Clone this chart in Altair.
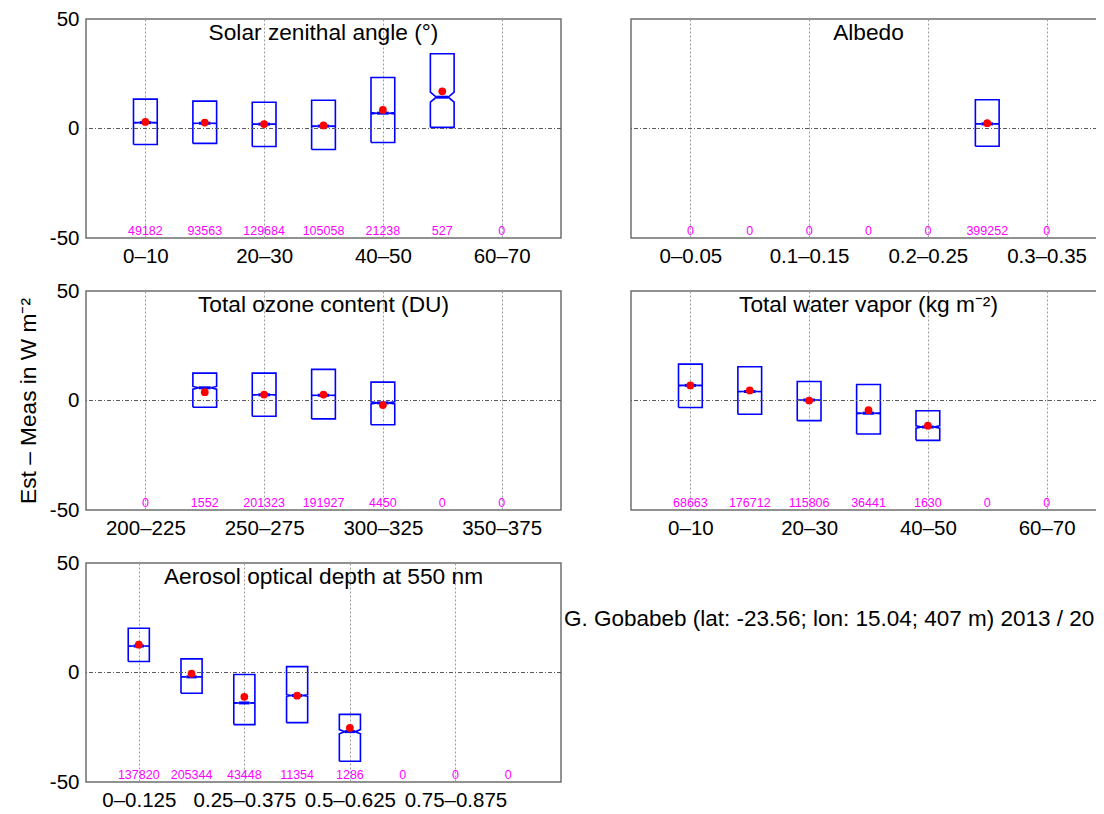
import math
import altair as alt
import pandas as pd

FONT = "Liberation Sans"
W, H = 475, 219
HW = 0.2          # half box width, in category units
BLUE = "#0000FF"

# ---------------- data ----------------
sza_bins = ["0–10", "10–20", "20–30", "30–40", "40–50", "50–60", "60–70"]
sza_n = [49182, 93563, 129684, 105058, 21238, 527, 0]
sza_q1 = [-7.3, -6.8, -8.2, -9.6, -6.4, 0.5, None]
sza_med = [2.7, 2.4, 2.0, 1.1, 7.0, 14.3, None]
sza_q3 = [13.4, 12.5, 12.0, 12.9, 23.3, 34.1, None]
sza_mean = [3.0, 2.7, 2.0, 1.4, 8.5, 17.0, None]

alb_bins = ["0–0.05", "0.05–0.1", "0.1–0.15", "0.15–0.2", "0.2–0.25", "0.25–0.3", "0.3–0.35"]
alb_n = [0, 0, 0, 0, 0, 399252, 0]
alb_q1 = [None, None, None, None, None, -8.1, None]
alb_med = [None, None, None, None, None, 2.1, None]
alb_q3 = [None, None, None, None, None, 13.1, None]
alb_mean = [None, None, None, None, None, 2.4, None]

oz_bins = ["200–225", "225–250", "250–275", "275–300", "300–325", "325–350", "350–375"]
oz_n = [0, 1552, 201323, 191927, 4450, 0, 0]
oz_q1 = [None, -3.1, -7.2, -8.4, -11.1, None, None]
oz_med = [None, 5.8, 2.6, 2.4, -1.1, None, None]
oz_q3 = [None, 12.5, 12.5, 14.2, 8.4, None, None]
oz_mean = [None, 3.8, 2.7, 2.7, -2.1, None, None]

wv_bins = ["0–10", "10–20", "20–30", "30–40", "40–50", "50–60", "60–70"]
wv_n = [68663, 176712, 115806, 36441, 1630, 0, 0]
wv_q1 = [-3.2, -6.3, -9.2, -15.3, -18.2, None, None]
wv_med = [6.9, 4.1, 0.2, -5.8, -12.1, None, None]
wv_q3 = [16.6, 15.4, 8.7, 7.3, -4.7, None, None]
wv_mean = [6.9, 4.6, 0.0, -4.4, -11.5, None, None]

aod_bins = ["0–0.125", "0.125–0.25", "0.25–0.375", "0.375–0.5",
            "0.5–0.625", "0.625–0.75", "0.75–0.875", "0.875–1"]
aod_n = [137820, 205344, 43448, 11354, 1286, 0, 0, 0]
aod_q1 = [5.0, -9.5, -23.8, -22.9, -40.5, None, None, None]
aod_med = [12.1, -2.0, -13.9, -10.5, -27.0, None, None, None]
aod_q3 = [20.2, 6.2, -0.9, 2.7, -19.1, None, None, None]
aod_mean = [12.7, -0.5, -11.1, -10.6, -25.3, None, None, None]

titles = ["Solar zenithal angle (°)", "Albedo", "Total ozone content (DU)",
          "Total water vapor (kg m⁻²)", "Aerosol optical depth at 550 nm"]
y_title = "Est – Meas in W m⁻²"
station = "G. Gobabeb (lat: -23.56; lon: 15.04; 407 m) 2013 / 20"


def panel(title, bins, n, q1, med, q3, mean, ylabels=True, ytitle=None, note=None):
    k = len(bins)
    xs = alt.Scale(domain=[0, k + 1], nice=False, zero=False)
    ys = alt.Scale(domain=[-50, 50], nice=False, zero=False)
    label_js = "[" + ",".join("'%s'" % b for b in bins) + "][datum.value - 1]"
    xaxis = alt.Axis(values=list(range(1, k + 1, 2)), labelExpr=label_js, grid=True,
                     gridColor="#9a9a9a", gridDash=[2, 2], gridWidth=1,
                     labelPadding=8, labelOverlap=False, title=None)
    yaxis = alt.Axis(values=[-50, 0, 50], labels=ylabels, grid=False,
                     labelExpr="replace(datum.label, '−', '-')",
                     labelPadding=7, title=ytitle if ytitle else None, titlePadding=9)

    def X(f):
        return alt.X(f, scale=xs, axis=xaxis)

    def Y(f):
        return alt.Y(f, scale=ys, axis=yaxis)

    rows, med_rows, mean_rows = [], [], []
    for i in range(k):
        if q1[i] is None:
            continue
        c = i + 1
        nt = 1.57 * (q3[i] - q1[i]) / math.sqrt(n[i])
        pts = [(c - HW, q1[i]), (c - HW, med[i] - nt), (c - HW / 2, med[i]),
               (c - HW, med[i] + nt), (c - HW, q3[i]), (c + HW, q3[i]),
               (c + HW, med[i] + nt), (c + HW / 2, med[i]), (c + HW, med[i] - nt),
               (c + HW, q1[i]), (c - HW, q1[i])]
        for j, (px, py) in enumerate(pts):
            rows.append({"box": i, "ord": j, "x": px, "y": py})
        med_rows.append({"x": c - HW / 2, "x2": c + HW / 2, "y": med[i]})
        mean_rows.append({"x": c, "y": mean[i]})
    odf = pd.DataFrame(rows)
    mdf = pd.DataFrame(med_rows)
    adf = pd.DataFrame(mean_rows)
    cdf = pd.DataFrame({"x": list(range(1, k + 1)), "n": [str(v) for v in n]})

    outline = alt.Chart(odf).mark_line(color=BLUE, strokeWidth=1.6).encode(
        x=X("x:Q"), y=Y("y:Q"), detail="box:N", order="ord:Q",
    )
    zero = alt.Chart(pd.DataFrame({"y": [0]})).mark_rule(
        color="#5a5a5a", strokeDash=[4, 2, 1, 2], strokeWidth=1
    ).encode(y=Y("y:Q"))
    medline = alt.Chart(mdf).mark_rule(color=BLUE, strokeWidth=3).encode(
        x=X("x:Q"), x2="x2:Q", y=Y("y:Q"),
    )
    dots = alt.Chart(adf).mark_circle(color="#FF0000", opacity=1, size=60).encode(
        x=X("x:Q"), y=Y("y:Q"),
    )
    counts = alt.Chart(cdf).mark_text(
        color="#FF00FF", font=FONT, fontSize=12.5, baseline="alphabetic", dy=-3
    ).encode(x=X("x:Q"), y=alt.value(H), text="n:N")
    ttl = alt.Chart(pd.DataFrame({"t": [title]})).mark_text(
        font=FONT, fontSize=22.7, baseline="alphabetic", align="center", color="black"
    ).encode(x=alt.value(W / 2), y=alt.value(21), text="t:N")

    layers = [outline, zero, medline, dots, counts, ttl]
    if note is not None:
        layers.append(alt.Chart(pd.DataFrame({"t": [note]})).mark_text(
            font=FONT, fontSize=22.5, baseline="alphabetic", align="left", color="black"
        ).encode(x=alt.value(W + 3), y=alt.value(63), text="t:N"))
    return alt.layer(*layers).properties(width=W, height=H)


p1 = panel(titles[0], sza_bins, sza_n, sza_q1, sza_med, sza_q3, sza_mean)
p2 = panel(titles[1], alb_bins, alb_n, alb_q1, alb_med, alb_q3, alb_mean, ylabels=False)
p3 = panel(titles[2], oz_bins, oz_n, oz_q1, oz_med, oz_q3, oz_mean, ytitle=y_title)
p4 = panel(titles[3], wv_bins, wv_n, wv_q1, wv_med, wv_q3, wv_mean, ylabels=False)
p5 = panel(titles[4], aod_bins, aod_n, aod_q1, aod_med, aod_q3, aod_mean, note=station)

chart = alt.concat(p1, p2, p3, p4, p5, columns=2, bounds="flush",
                   spacing={"row": 53, "column": 70}).properties(
    autosize=alt.AutoSizeParams(type="none"),
    padding={"left": 78, "top": 11, "right": 1010, "bottom": 795},
    background="white",
).configure_axis(
    labelFont=FONT, labelFontSize=20.5, labelColor="black",
    titleFont=FONT, titleFontSize=22.7, titleFontWeight="normal", titleColor="black",
    tickSize=0, domain=False,
).configure_view(stroke="#6e6e6e", strokeWidth=1.5)

chart.save("out.html", embed_options={"renderer": "svg", "actions": False})
